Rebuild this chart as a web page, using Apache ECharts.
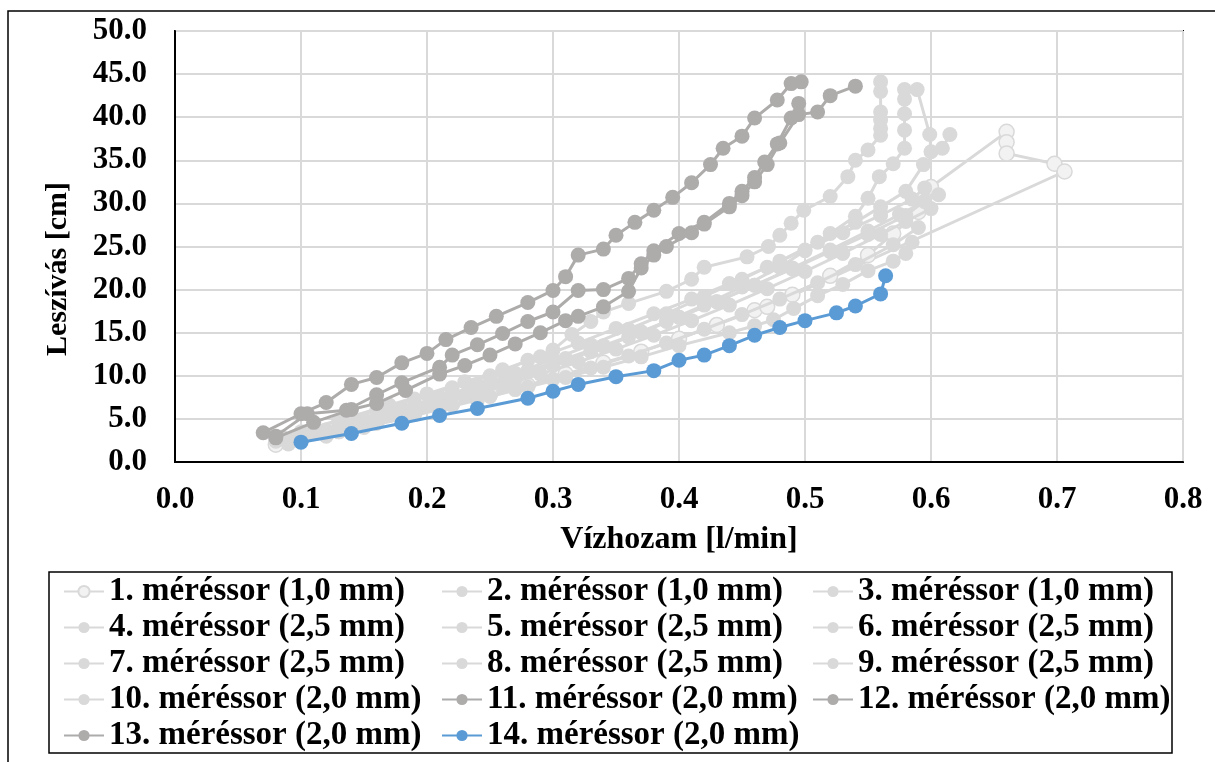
<!DOCTYPE html>
<html>
<head>
<meta charset="utf-8">
<script src="https://cdn.jsdelivr.net/npm/echarts@6/dist/echarts.min.js"></script>
<style>
  html, body { margin: 0; padding: 0; background: #fff; }
  #chart { width: 1215px; height: 762px; }
</style>
</head>
<body>
<div id="chart"></div>
<script>
// Measurement series: [flow rate (l/min), drawdown (cm)]
const s1 = [[0.08,2.0],[0.1,2.6],[0.13,3.6],[0.16,4.6],[0.19,5.7],[0.22,6.8],[0.25,7.9],[0.28,8.9],[0.31,10.2],[0.34,11.5],[0.37,12.8],[0.4,14.3],[0.43,15.9],[0.46,17.6],[0.49,19.4],[0.52,21.6],[0.55,24.0],[0.57,26.5],[0.59,29.0],[0.6,31.9],[0.66,38.3],[0.66,37.1],[0.66,35.8],[0.698,34.6],[0.706,33.7],[0.47,18.0]];
const s2 = [[0.08,2.5],[0.1,3.5],[0.13,4.8],[0.16,6.0],[0.19,7.3],[0.22,8.6],[0.25,10.0],[0.28,11.8],[0.3,13.0],[0.315,14.8],[0.33,16.3],[0.34,17.4],[0.36,18.4],[0.39,19.8],[0.41,21.2],[0.42,22.6],[0.454,23.8],[0.471,25.0],[0.48,26.3],[0.489,27.7],[0.499,29.2],[0.52,30.8],[0.534,33.1],[0.54,35.0],[0.55,36.2],[0.56,37.9],[0.56,38.7],[0.56,39.7],[0.56,40.6],[0.56,43.0],[0.56,44.1]];
const s3 = [[0.09,2.3],[0.12,3.4],[0.15,4.6],[0.18,5.8],[0.21,7.0],[0.24,8.3],[0.27,9.7],[0.3,11.2],[0.33,12.8],[0.36,14.5],[0.39,16.3],[0.42,18.2],[0.45,20.3],[0.48,22.6],[0.5,24.5],[0.52,26.5],[0.54,28.5],[0.55,30.6],[0.559,33.1],[0.57,34.6],[0.579,36.4],[0.579,38.5],[0.579,40.4],[0.579,42.1],[0.579,43.2],[0.589,43.2],[0.599,38.0],[0.6,36.0]];
const s4 = [[0.09,2.6],[0.12,3.7],[0.15,4.9],[0.18,6.2],[0.21,7.5],[0.24,8.9],[0.27,10.3],[0.3,11.9],[0.33,13.6],[0.36,15.4],[0.39,17.2],[0.42,19.2],[0.45,21.2],[0.48,23.3],[0.51,25.5],[0.54,27.8],[0.56,29.6],[0.58,31.4],[0.594,34.5],[0.609,36.4],[0.615,38.0]];
const s5 = [[0.1,2.8],[0.13,3.9],[0.16,5.1],[0.19,6.4],[0.22,7.7],[0.25,9.0],[0.28,10.4],[0.31,11.9],[0.34,13.4],[0.37,15.0],[0.4,16.8],[0.43,18.6],[0.46,20.5],[0.49,22.5],[0.52,24.6],[0.55,26.8],[0.575,28.7],[0.595,30.2],[0.606,31.0]];
const s6 = [[0.08,2.4],[0.11,3.3],[0.14,4.3],[0.17,5.4],[0.2,6.5],[0.23,7.7],[0.26,8.9],[0.29,10.2],[0.32,11.6],[0.35,13.1],[0.38,14.7],[0.41,16.4],[0.44,18.2],[0.47,20.1],[0.5,22.1],[0.53,24.2],[0.56,26.4],[0.58,27.9],[0.6,29.4]];
const s7 = [[0.09,2.1],[0.12,3.0],[0.15,4.0],[0.18,5.0],[0.21,6.1],[0.24,7.2],[0.27,8.4],[0.3,9.6],[0.33,10.9],[0.36,12.3],[0.39,13.8],[0.42,15.4],[0.45,17.1],[0.48,18.9],[0.51,20.8],[0.54,22.9],[0.57,25.2],[0.59,27.2]];
const s8 = [[0.1,2.5],[0.13,3.5],[0.16,4.5],[0.19,5.5],[0.22,6.6],[0.25,7.6],[0.28,8.7],[0.31,9.8],[0.34,11.0],[0.37,12.2],[0.4,13.5],[0.44,15.0],[0.46,15.8],[0.475,16.5],[0.491,17.8],[0.51,19.3],[0.53,20.6],[0.55,22.2],[0.57,23.3],[0.58,24.2],[0.585,25.5]];
const s9 = [[0.085,2.9],[0.11,4.0],[0.14,5.3],[0.17,6.6],[0.2,7.9],[0.23,9.3],[0.26,10.7],[0.29,12.2],[0.32,13.8],[0.35,15.5],[0.38,17.2],[0.41,18.9],[0.44,20.7],[0.47,22.6],[0.5,24.6],[0.53,26.6],[0.56,28.6],[0.585,30.5],[0.595,31.8]];
const s10 = [[0.1,3.1],[0.13,4.2],[0.16,5.4],[0.19,6.6],[0.22,7.9],[0.25,9.2],[0.28,10.6],[0.31,12.0],[0.34,13.5],[0.37,15.1],[0.4,16.8],[0.43,18.6],[0.46,20.5],[0.49,22.4],[0.52,24.4],[0.55,26.4],[0.58,28.6],[0.595,30.3]];
const s11 = [[0.08,3.0],[0.105,5.6],[0.136,6.0],[0.16,7.8],[0.18,9.2],[0.21,11.0],[0.22,12.4],[0.24,13.6],[0.26,14.9],[0.28,16.3],[0.3,17.4],[0.32,19.9],[0.34,20.0],[0.36,21.3],[0.37,23.0],[0.38,24.5],[0.4,26.5],[0.42,27.8],[0.44,30.0],[0.45,31.4],[0.46,33.0],[0.468,34.8],[0.478,36.9],[0.489,39.9],[0.495,41.6]];
const s12 = [[0.08,2.8],[0.11,4.6],[0.14,6.1],[0.16,6.8],[0.183,8.3],[0.21,10.2],[0.23,11.2],[0.25,12.4],[0.27,13.7],[0.29,15.0],[0.31,16.4],[0.32,16.9],[0.34,18.0],[0.36,19.8],[0.37,22.5],[0.38,24.0],[0.39,25.0],[0.41,26.6],[0.42,27.6],[0.44,29.6],[0.45,30.9],[0.46,32.5],[0.47,34.5],[0.48,37.0],[0.495,40.3],[0.51,40.6],[0.52,42.5],[0.54,43.6]];
const s13 = [[0.07,3.4],[0.1,5.6],[0.12,6.9],[0.14,9.0],[0.16,9.8],[0.18,11.5],[0.2,12.6],[0.215,14.2],[0.235,15.6],[0.255,16.9],[0.28,18.5],[0.3,19.9],[0.31,21.5],[0.32,24.0],[0.34,24.7],[0.35,26.3],[0.365,27.8],[0.38,29.2],[0.395,30.7],[0.41,32.4],[0.425,34.5],[0.435,36.4],[0.45,37.8],[0.46,39.9],[0.478,42.0],[0.489,43.9],[0.497,44.1]];
const s14 = [[0.1,2.3],[0.14,3.3],[0.18,4.5],[0.21,5.4],[0.24,6.2],[0.28,7.4],[0.3,8.2],[0.32,9.0],[0.35,9.9],[0.38,10.6],[0.4,11.8],[0.42,12.4],[0.44,13.5],[0.46,14.7],[0.48,15.6],[0.5,16.4],[0.525,17.3],[0.54,18.1],[0.56,19.5],[0.564,21.6]];

const seriesNames = [
  '1. méréssor (1,0 mm)', '2. méréssor (1,0 mm)', '3. méréssor (1,0 mm)',
  '4. méréssor (2,5 mm)', '5. méréssor (2,5 mm)', '6. méréssor (2,5 mm)',
  '7. méréssor (2,5 mm)', '8. méréssor (2,5 mm)', '9. méréssor (2,5 mm)',
  '10. méréssor (2,0 mm)', '11. méréssor (2,0 mm)', '12. méréssor (2,0 mm)',
  '13. méréssor (2,0 mm)', '14. méréssor (2,0 mm)'
];
const seriesData = [s1, s2, s3, s4, s5, s6, s7, s8, s9, s10, s11, s12, s13, s14];

const xTicks = { min: 0, max: 0.8, step: 0.1 };
const yTicks = { min: 0, max: 50, step: 5 };
const xTitle = 'Vízhozam [l/min]';
const yTitle = 'Leszívás [cm]';

const LIGHT = '#D9D9D9';
const DARK = '#AEABAB';
const BLUE = '#5B9BD5';
const FONT = '"Liberation Serif", "Times New Roman", serif';

function colorFor(i) {
  if (i === 13) return BLUE;
  if (i >= 10) return DARK;
  return LIGHT;
}

const series = seriesData.map((d, i) => {
  const c = colorFor(i);
  const hollow = i === 0;
  return {
    name: seriesNames[i],
    type: 'line',
    data: d,
    symbol: 'circle',
    symbolSize: 15,
    showSymbol: true,
    animation: false,
    lineStyle: { color: c, width: 3 },
    itemStyle: hollow
      ? { color: '#F2F2F2', borderColor: LIGHT, borderWidth: 1.5 }
      : { color: c, borderColor: c, borderWidth: 0 },
    emphasis: { disabled: true },
    z: 2 + i
  };
});

const legendText = { fontFamily: FONT, fontWeight: 'bold', fontSize: 33, color: '#000', lineHeight: 32 };
function legendCol(left, names) {
  return {
    orient: 'vertical',
    left: left,
    top: 575,
    itemWidth: 40,
    itemHeight: 14,
    itemGap: 3,
    padding: 0,
    textStyle: legendText,
    selectedMode: false,
    data: names
  };
}

const tickFont = { fontFamily: FONT, fontWeight: 'bold', fontSize: 31, color: '#000' };
const titleFont = { fontFamily: FONT, fontWeight: 'bold', fontSize: 32, color: '#000' };

const chart = echarts.init(document.getElementById('chart'), null, { renderer: 'canvas' });
chart.setOption({
  backgroundColor: '#fff',
  animation: false,
  grid: {
    left: 175, top: 31, right: 32, bottom: 300,
    show: true, borderColor: '#000', borderWidth: 2, backgroundColor: 'transparent'
  },
  xAxis: {
    type: 'value',
    min: xTicks.min, max: xTicks.max, interval: xTicks.step,
    name: xTitle,
    nameLocation: 'middle',
    nameGap: 62,
    nameTextStyle: titleFont,
    axisLine: { show: true, lineStyle: { color: '#000', width: 2 } },
    axisTick: { show: false },
    axisLabel: Object.assign({ margin: 22, formatter: v => v.toFixed(1) }, tickFont),
    splitLine: { show: true, lineStyle: { color: LIGHT, width: 2 } }
  },
  yAxis: {
    type: 'value',
    min: yTicks.min, max: yTicks.max, interval: yTicks.step,
    axisLine: { show: true, lineStyle: { color: '#000', width: 2 } },
    axisTick: { show: false },
    axisLabel: Object.assign({ margin: 28, formatter: v => v.toFixed(1) }, tickFont),
    splitLine: { show: true, lineStyle: { color: LIGHT, width: 2 } }
  },
  legend: [
    legendCol(63, [seriesNames[0], seriesNames[3], seriesNames[6], seriesNames[9], seriesNames[12]]),
    legendCol(441, [seriesNames[1], seriesNames[4], seriesNames[7], seriesNames[10], seriesNames[13]]),
    legendCol(812, [seriesNames[2], seriesNames[5], seriesNames[8], seriesNames[11]])
  ],
  graphic: [
    { type: 'rect', shape: { x: 8, y: 11, width: 1230, height: 780 }, style: { fill: null, stroke: '#000', lineWidth: 1.5 }, silent: true },
    { type: 'rect', shape: { x: 49, y: 572, width: 1123, height: 181 }, style: { fill: null, stroke: '#000', lineWidth: 1.5 }, silent: true },
    {
      type: 'text', x: 58, y: 269, rotation: Math.PI / 2, silent: true,
      style: { text: yTitle, font: 'bold 30px ' + FONT, fill: '#000', align: 'center', verticalAlign: 'middle' }
    }
  ],
  series: series
});
</script>
</body>
</html>
